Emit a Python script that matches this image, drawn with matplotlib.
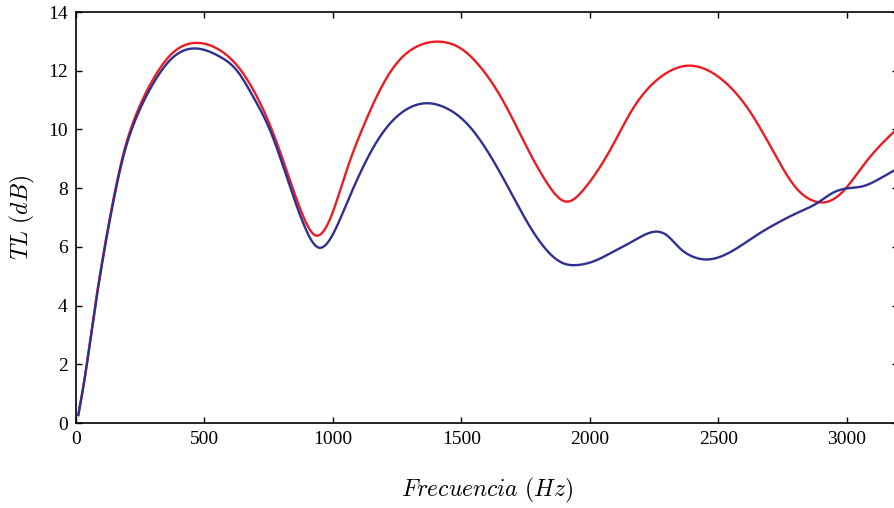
import numpy as np
import matplotlib
matplotlib.use('Agg')
import matplotlib.pyplot as plt

plt.rcParams['font.family'] = 'Liberation Serif'
plt.rcParams['mathtext.fontset'] = 'cm'

# curva azul
f_azul = [9, 35, 67, 106, 139, 184, 236, 301, 366, 463, 560, 625, 690, 755, 820, 885,
          943, 1002, 1054, 1118, 1183, 1248, 1313, 1378, 1443, 1508, 1573, 1638, 1702,
          1767, 1832, 1897, 1949, 2027, 2092, 2157, 2221, 2260, 2299, 2351, 2403, 2455,
          2507, 2572, 2650, 2740, 2818, 2883, 2948, 3000, 3065, 3130, 3200]
tl_azul = [0.27, 1.58, 3.5, 5.66, 7.25, 9.07, 10.43, 11.57, 12.36, 12.76, 12.48, 12.02,
           11.11, 9.98, 8.39, 6.80, 5.98, 6.46, 7.48, 8.73, 9.75, 10.43, 10.8, 10.89,
           10.72, 10.32, 9.64, 8.73, 7.71, 6.69, 5.89, 5.44, 5.38, 5.55, 5.84, 6.14,
           6.44, 6.52, 6.40, 5.95, 5.66, 5.57, 5.66, 5.95, 6.40, 6.86, 7.2, 7.48, 7.85,
           7.99, 8.07, 8.33, 8.68]

# curva roja
f_rojo = [9, 35, 67, 106, 139, 184, 236, 301, 366, 470, 560, 625, 690, 755, 820, 885,
          930, 989, 1054, 1118, 1183, 1248, 1326, 1417, 1508, 1573, 1638, 1702, 1767,
          1832, 1910, 1975, 2092, 2157, 2221, 2286, 2377, 2481, 2546, 2611, 2675,
          2740, 2805, 2870, 2916, 2987, 3065, 3130, 3200]
tl_rojo = [0.27, 1.6, 3.55, 5.72, 7.32, 9.15, 10.55, 11.72, 12.52, 12.95, 12.7, 12.2,
           11.35, 10.15, 8.6, 7.03, 6.40, 6.95, 8.62, 10.09, 11.34, 12.25, 12.82, 12.99,
           12.7, 12.14, 11.34, 10.32, 9.19, 8.2, 7.54, 7.94, 9.5, 10.55, 11.34,
           11.85, 12.17, 11.91, 11.45, 10.77, 9.87, 8.85, 7.99, 7.57, 7.52, 7.9, 8.78,
           9.45, 10.05]


def spline_natural(x, y, n=1000):
    # spline cubica natural, resuelta con numpy
    x = np.asarray(x, float)
    y = np.asarray(y, float)
    m = len(x)
    h = np.diff(x)
    A = np.zeros((m, m))
    b = np.zeros(m)
    A[0, 0] = A[-1, -1] = 1
    for i in range(1, m - 1):
        A[i, i - 1] = h[i - 1]
        A[i, i] = 2 * (h[i - 1] + h[i])
        A[i, i + 1] = h[i]
        b[i] = 6 * ((y[i + 1] - y[i]) / h[i] - (y[i] - y[i - 1]) / h[i - 1])
    M = np.linalg.solve(A, b)
    xs = np.linspace(x[0], x[-1], n)
    i = np.clip(np.searchsorted(x, xs, side='right') - 1, 0, m - 2)
    t0 = x[i + 1] - xs
    t1 = xs - x[i]
    hi = h[i]
    ys = (M[i] * t0**3 / (6 * hi) + M[i + 1] * t1**3 / (6 * hi)
          + (y[i] / hi - M[i] * hi / 6) * t0 + (y[i + 1] / hi - M[i + 1] * hi / 6) * t1)
    return xs, ys


fig = plt.figure(figsize=(8.94, 5.08), dpi=100)
ax = fig.add_axes([0.085, 0.1673, 0.9195, 0.809])

xa, ya = spline_natural(f_azul, tl_azul)
xr, yr = spline_natural(f_rojo, tl_rojo)
ax.plot(xr, yr, color='#ED1C24', lw=1.7)
ax.plot(xa, ya, color='#2E3192', lw=1.7)

ax.set_xlim(0, 3200)
ax.set_ylim(0, 14)
ax.set_xticks([0, 500, 1000, 1500, 2000, 2500, 3000])
ax.set_yticks(range(0, 15, 2))
ax.tick_params(direction='in', top=True, right=True, length=4.5, width=1,
               labelsize=14, pad=6)
for s in ax.spines.values():
    s.set_linewidth(1.2)

ax.set_xlabel(r'$Frecuencia\ (Hz)$', fontsize=17, labelpad=20)
ax.set_ylabel(r'$TL\ (dB)$', fontsize=17, labelpad=8)

fig.savefig('out.png', dpi=100)
